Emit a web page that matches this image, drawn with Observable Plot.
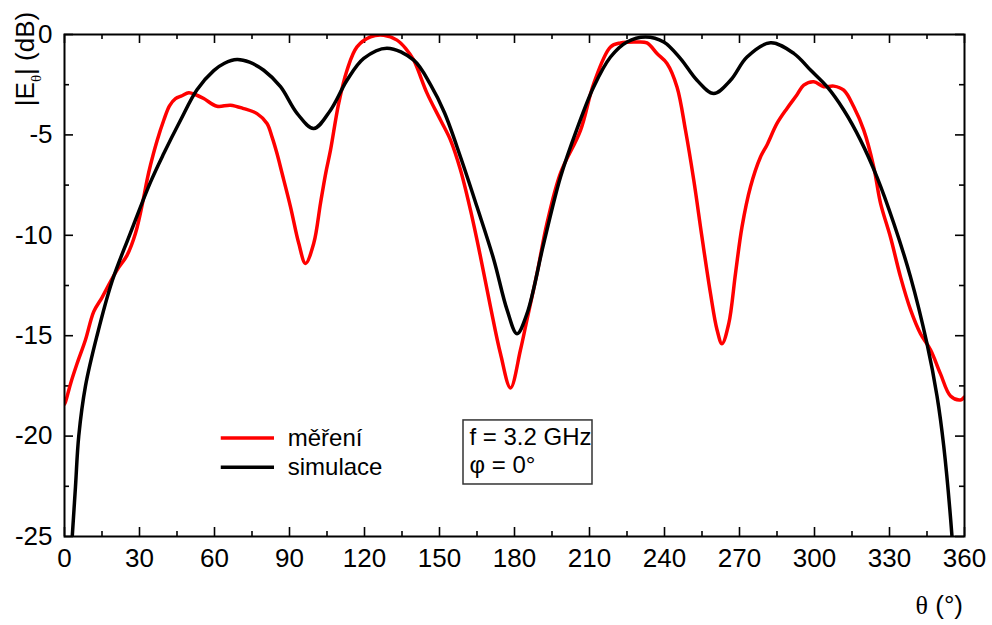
<!DOCTYPE html>
<html>
<head>
<meta charset="utf-8">
<script src="https://cdn.jsdelivr.net/npm/d3@7"></script>
<script src="https://cdn.jsdelivr.net/npm/@observablehq/plot@0.6"></script>
<style>
  html, body { margin: 0; padding: 0; background: white; }
  #chart { width: 992px; height: 625px; }
</style>
</head>
<body>
<div id="chart"></div>
<script>
// --- data ---
const measAngle = [0, 0.4, 2.4, 5, 8.4, 11.7, 15, 18.4, 21.7, 25, 28.4, 31.7, 33, 34.4, 37, 39.7, 42, 44.4, 47, 49.7, 52.5, 55.7, 61, 66.4, 71.7, 77, 81, 83, 85, 87, 90.4, 93.7, 96.4, 99.7, 102.4, 104.5, 106.4, 109.7, 113, 117, 122.4, 127.7, 133, 136.5, 139.7, 145, 150.4, 154.4, 158.4, 162.4, 166.4, 170.4, 174.4, 178.4, 182.4, 185, 189, 193, 198.4, 206.4, 211.7, 218.4, 222.4, 229, 233, 237, 241, 245, 248.4, 251.7, 255, 258.4, 261, 263, 265.7, 268.4, 271, 274.4, 278.4, 281, 285, 289, 293, 295.7, 299.7, 303.7, 307.7, 311.7, 315.7, 319.7, 323.7, 326.4, 330.4, 334.4, 338.4, 342.4, 346.4, 350.4, 354.4, 358.4, 360];
const measDb = [-18.4, -18.3, -17.4, -16.4, -15.2, -13.8, -13.1, -12.3, -11.6, -11.0, -9.9, -8.1, -7.26, -6.5, -5.3, -4.27, -3.55, -3.19, -3.05, -2.9, -3.0, -3.19, -3.57, -3.52, -3.69, -3.94, -4.43, -5.1, -5.93, -6.9, -8.58, -10.4, -11.4, -10.4, -8.4, -6.9, -5.76, -3.42, -1.78, -0.62, -0.12, -0.04, -0.28, -0.7, -1.28, -2.92, -4.26, -5.26, -6.75, -8.75, -11.07, -13.56, -15.9, -17.6, -15.7, -14.2, -11.9, -9.4, -6.9, -4.77, -2.44, -0.62, -0.42, -0.37, -0.42, -0.95, -1.44, -2.61, -4.77, -7.25, -10.1, -12.9, -14.7, -15.4, -14.4, -11.9, -9.58, -7.58, -6.1, -5.5, -4.43, -3.68, -3.0, -2.52, -2.35, -2.6, -2.57, -2.77, -3.6, -4.76, -6.6, -8.4, -10.1, -12.07, -13.7, -14.9, -15.7, -16.9, -18.0, -18.2, -18.05];

const simAngle = [1.5, 3.1, 4.4, 5.7, 8.4, 13, 19, 26, 34.4, 39.7, 46.4, 53, 59.7, 64, 69, 74, 79.7, 86.4, 93.1, 99.7, 106.4, 113, 119.7, 129, 139.7, 146.4, 152, 158.4, 165, 171.7, 177, 181, 185, 191.7, 198.4, 205, 211.7, 218.4, 225, 232.4, 239.7, 246.4, 253, 259.7, 266.4, 273, 282.4, 291.7, 298.4, 305, 311.7, 318.4, 325, 331.7, 338.4, 345, 349, 351.7, 355, 356.5];
const simDb = [-28, -25, -22.5, -20, -17.5, -15, -12.3, -10, -7.35, -5.93, -4.27, -2.75, -1.8, -1.43, -1.25, -1.38, -1.78, -2.6, -3.94, -4.68, -3.77, -2.28, -1.19, -0.68, -1.28, -2.5, -3.9, -6.1, -8.58, -11.2, -13.7, -14.9, -13.9, -10.4, -7.1, -4.7, -2.6, -1.12, -0.37, -0.12, -0.37, -1.2, -2.28, -2.94, -2.28, -1.12, -0.41, -0.94, -1.77, -2.6, -3.76, -5.26, -7.1, -9.4, -12.07, -15.4, -18.0, -20.5, -25, -28];

const xMajor = [0, 30, 60, 90, 120, 150, 180, 210, 240, 270, 300, 330, 360];
const xMinor = [15, 45, 75, 105, 135, 165, 195, 225, 255, 285, 315, 345];
const yMajor = [0, -5, -10, -15, -20, -25];
const yMinor = [-2.5, -7.5, -12.5, -17.5, -22.5];

const seriesNames = ["měření", "simulace"];
const seriesColors = ["#ff0000", "#000000"];
const boxLines = ["f = 3.2 GHz", "φ = 0°"];

// --- build ---
const meas = measAngle.map((a, i) => ({a, v: measDb[i]}));
const sim = simAngle.map((a, i) => ({a, v: simDb[i]}));
const legend = seriesNames.map((n, i) => ({name: n, color: seriesColors[i], i}));
const box = boxLines.map((t, i) => ({t, i}));

const W = 992, H = 625, mL = 64, mR = 28, mT = 34, mB = 89;
const innerW = W - mL - mR, innerH = H - mT - mB;
const font = "'Liberation Sans', Arial, sans-serif";

const chart = Plot.plot({
  width: W, height: H,
  marginLeft: mL, marginRight: mR, marginTop: mT, marginBottom: mB,
  style: {fontFamily: font, background: "white", color: "black"},
  x: {domain: [0, 360]},
  y: {domain: [-25, 0]},
  marks: [
    // ticks inward
    Plot.tickX(xMajor, {x: d => d, insetTop: innerH - 9, strokeWidth: 1.6, stroke: "black"}),
    Plot.tickX(xMinor, {x: d => d, insetTop: innerH - 5, strokeWidth: 1.6, stroke: "black"}),
    Plot.tickX(xMajor, {x: d => d, insetBottom: innerH - 9, strokeWidth: 1.6, stroke: "black"}),
    Plot.tickX(xMinor, {x: d => d, insetBottom: innerH - 5, strokeWidth: 1.6, stroke: "black"}),
    Plot.tickY(yMajor, {y: d => d, insetRight: innerW - 9, strokeWidth: 1.6, stroke: "black"}),
    Plot.tickY(yMinor, {y: d => d, insetRight: innerW - 5, strokeWidth: 1.6, stroke: "black"}),
    Plot.tickY(yMajor, {y: d => d, insetLeft: innerW - 9, strokeWidth: 1.6, stroke: "black"}),
    Plot.tickY(yMinor, {y: d => d, insetLeft: innerW - 5, strokeWidth: 1.6, stroke: "black"}),
    Plot.axisX({ticks: xMajor, tickSize: 0, tickPadding: 12, fontSize: 26, tickFormat: d => String(d), label: null}),
    Plot.axisY({ticks: yMajor, tickSize: 0, tickPadding: 12, fontSize: 26, tickFormat: d => String(d), label: null}),
    Plot.line(meas, {x: "a", y: "v", stroke: seriesColors[0], strokeWidth: 3.5, curve: "catmull-rom", clip: true}),
    Plot.line(sim, {x: "a", y: "v", stroke: seriesColors[1], strokeWidth: 3.5, curve: "catmull-rom", clip: true}),
    // legend
    Plot.ruleY(legend, {y: d => -20.1 - 1.45 * d.i, x1: 62.7, x2: 84, stroke: "color", strokeWidth: 3.5}),
    Plot.text(legend, {x: 89.3, y: d => -20.1 - 1.45 * d.i, text: "name", textAnchor: "start", fontSize: 24, fill: "black"}),
    // annotation box
    Plot.rect([0], {x1: 159.6, x2: 211.2, y1: -19.22, y2: -22.41, fill: "none", stroke: "#333", strokeWidth: 1.5}),
    Plot.text(box, {x: 162, y: d => -20.05 - 1.42 * d.i, text: "t", textAnchor: "start", fontSize: 24, fill: "black"}),
    Plot.frame({stroke: "black", strokeWidth: 2})
  ]
});

const svg = d3.select(chart);
// y axis label with subscript theta
const yl = svg.append("text")
  .attr("transform", "translate(34,59) rotate(-90)")
  .attr("text-anchor", "middle")
  .attr("font-family", font)
  .attr("font-size", 26)
  .attr("fill", "black");
yl.append("tspan").text("|E");
yl.append("tspan").attr("font-size", 15).attr("dy", 7).attr("font-family", "'Liberation Serif', serif").text("θ");
yl.append("tspan").attr("dy", -7).text("| (dB)");

// x axis label
const xl = svg.append("text")
  .attr("x", 963).attr("y", 614)
  .attr("text-anchor", "end")
  .attr("font-size", 26)
  .attr("fill", "black");
xl.append("tspan").attr("font-family", "'Liberation Serif', serif").text("θ");
xl.append("tspan").attr("font-family", font).text(" (°)");

document.getElementById("chart").appendChild(chart);
</script>
</body>
</html>
